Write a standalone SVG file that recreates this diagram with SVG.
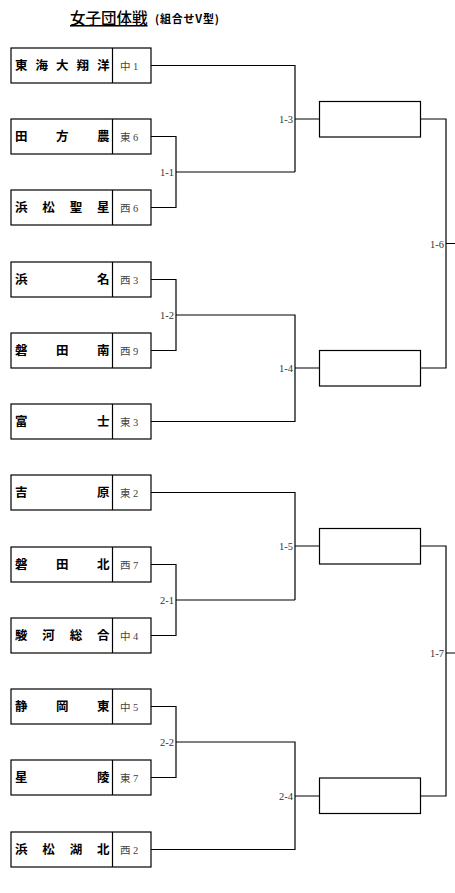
<svg xmlns="http://www.w3.org/2000/svg" width="455" height="893" viewBox="0 0 455 893">
<style>
.bg{fill:#fff}
.box{fill:#fff;stroke:#000;stroke-width:1.2}
.div{stroke:#000;stroke-width:1.2}
.name{font-family:"Noto Sans CJK JP",sans-serif;font-weight:bold;font-size:12.5px;fill:#000}
.code{font-family:"Liberation Serif","Noto Sans CJK JP",serif;font-size:10.5px;fill:#444}
.lbl{font-family:"Liberation Serif",serif;font-size:10.5px;fill:#333;text-anchor:end}
.ln{fill:none;stroke:#000;stroke-width:1.2}
.title{font-family:"Noto Sans CJK JP",sans-serif;font-size:15.5px;font-weight:500;fill:#000;text-decoration:underline}
.sub{font-family:"Noto Sans CJK JP",sans-serif;font-size:11px;font-weight:bold;fill:#000;letter-spacing:0.8px}
</style>
<defs>
<g id="cell"><rect class="box" x="11" y="0" width="140" height="35"/><line class="div" x1="112.5" y1="0" x2="112.5" y2="35"/></g>
</defs>
<rect class="bg" width="455" height="893"/>
<g id="title"><text class="title" x="70" y="24">女子団体戦</text><text class="sub" x="155" y="23">(組合せV型)</text></g>

<g id="t1" transform="translate(0,48)"><use href="#cell"/><text class="name" x="15 35.5 56 76.5 97" y="22">東海大翔洋</text><text class="code" x="120" y="21.5">中 1</text></g>
<g id="t2" transform="translate(0,119)"><use href="#cell"/><text class="name" x="15 56 97" y="22">田方農</text><text class="code" x="120" y="21.5">東 6</text></g>
<g id="t3" transform="translate(0,190)"><use href="#cell"/><text class="name" x="15 42.3 69.7 97" y="22">浜松聖星</text><text class="code" x="120" y="21.5">西 6</text></g>
<g id="t4" transform="translate(0,262)"><use href="#cell"/><text class="name" x="15 97" y="22">浜名</text><text class="code" x="120" y="21.5">西 3</text></g>
<g id="t5" transform="translate(0,333)"><use href="#cell"/><text class="name" x="15 56 97" y="22">磐田南</text><text class="code" x="120" y="21.5">西 9</text></g>
<g id="t6" transform="translate(0,404)"><use href="#cell"/><text class="name" x="15 97" y="22">富士</text><text class="code" x="120" y="21.5">東 3</text></g>
<g id="t7" transform="translate(0,475)"><use href="#cell"/><text class="name" x="15 97" y="22">吉原</text><text class="code" x="120" y="21.5">東 2</text></g>
<g id="t8" transform="translate(0,547)"><use href="#cell"/><text class="name" x="15 56 97" y="22">磐田北</text><text class="code" x="120" y="21.5">西 7</text></g>
<g id="t9" transform="translate(0,618)"><use href="#cell"/><text class="name" x="15 42.3 69.7 97" y="22">駿河総合</text><text class="code" x="120" y="21.5">中 4</text></g>
<g id="t10" transform="translate(0,689)"><use href="#cell"/><text class="name" x="15 56 97" y="22">静岡東</text><text class="code" x="120" y="21.5">中 5</text></g>
<g id="t11" transform="translate(0,760)"><use href="#cell"/><text class="name" x="15 97" y="22">星陵</text><text class="code" x="120" y="21.5">東 7</text></g>
<g id="t12" transform="translate(0,832)"><use href="#cell"/><text class="name" x="15 42.3 69.7 97" y="22">浜松湖北</text><text class="code" x="120" y="21.5">西 2</text></g>

<g id="w1"><rect class="box" x="319.5" y="101.5" width="101" height="35.5"/></g>
<g id="w2"><rect class="box" x="319.5" y="350.5" width="101" height="35.5"/></g>
<g id="w3"><rect class="box" x="319.5" y="528.5" width="101" height="35.5"/></g>
<g id="w4"><rect class="box" x="319.5" y="778" width="101" height="35.5"/></g>

<g id="connectors">
<path class="ln" d="M151 65.5H295V172"/>
<path class="ln" d="M151 136.5H176V207.5H151M176 172H295"/>
<path class="ln" d="M295 119H319.5M420.5 119H446V368H420.5M446 243.5H455"/>
<path class="ln" d="M151 279.5H176V350.5H151M176 315H295V421.5H151M295 368H319.5"/>
<path class="ln" d="M151 492.5H295V600M151 564.5H176V635.5H151M176 600H295M295 546H319.5"/>
<path class="ln" d="M151 706.5H176V777.5H151M176 742H295V849.5H151M295 796H319.5"/>
<path class="ln" d="M420.5 546H446V796H420.5M446 653H455"/>
<text class="lbl" x="174" y="175.5">1-1</text>
<text class="lbl" x="293" y="122.5">1-3</text>
<text class="lbl" x="444" y="247.5">1-6</text>
<text class="lbl" x="174" y="318.5">1-2</text>
<text class="lbl" x="293" y="371.5">1-4</text>
<text class="lbl" x="293" y="549.5">1-5</text>
<text class="lbl" x="174" y="603.5">2-1</text>
<text class="lbl" x="174" y="745.5">2-2</text>
<text class="lbl" x="293" y="799.5">2-4</text>
<text class="lbl" x="444" y="656.5">1-7</text>
</g>
</svg>
